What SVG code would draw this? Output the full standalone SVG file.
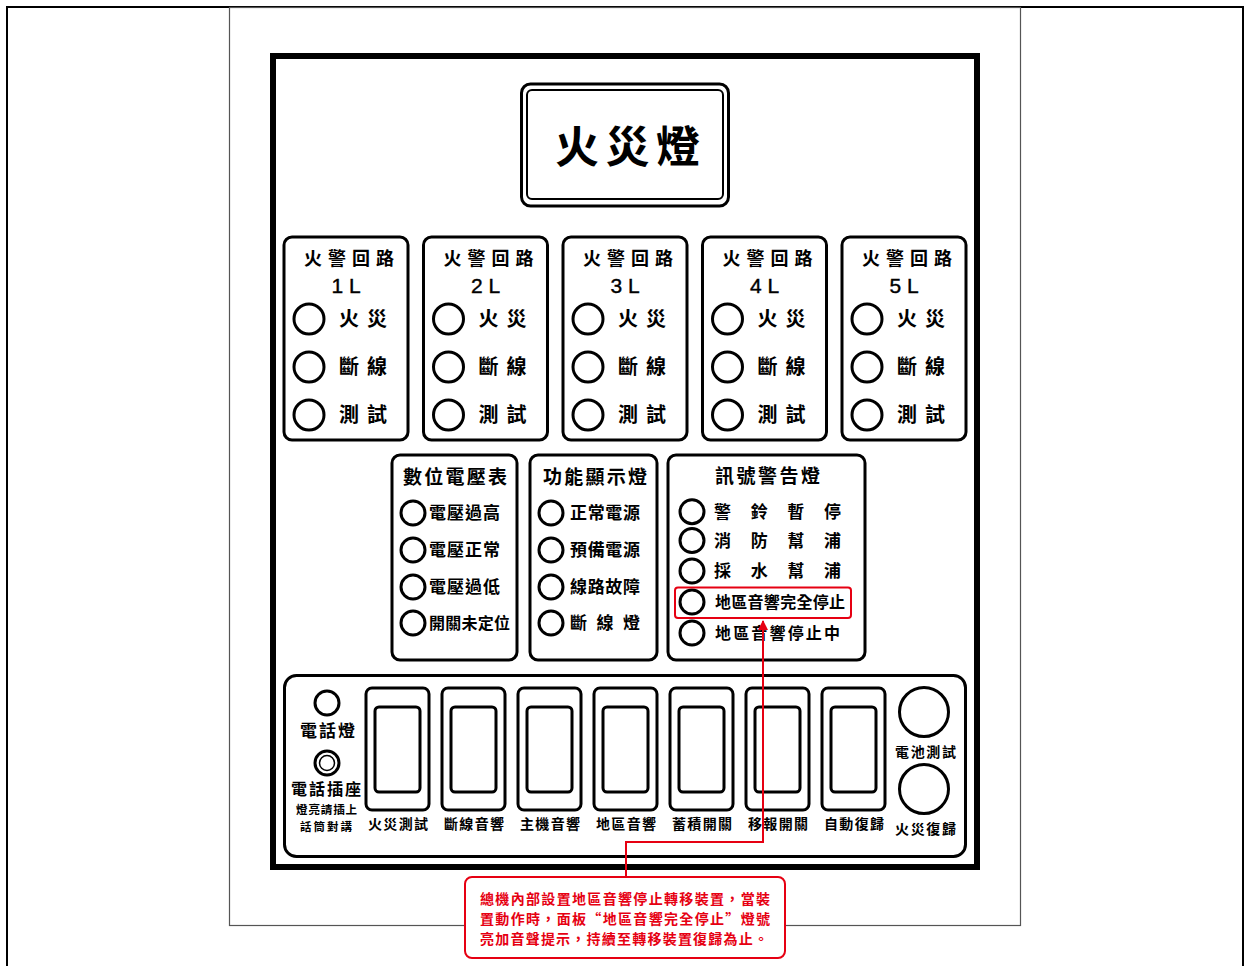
<svg xmlns="http://www.w3.org/2000/svg" width="1245" height="966" viewBox="0 0 1245 966">
<defs>
<style>
.t{font-family:"Noto Sans CJK TC","Noto Sans CJK SC",sans-serif;fill:#000;}
.b{font-weight:700;}
.box{fill:#fff;stroke:#000;stroke-width:3;}
.led{fill:#fff;stroke:#000;stroke-width:3;}
.red{fill:none;stroke:#e60012;stroke-width:2;}
.rt{font-family:"Noto Sans CJK TC","Noto Sans CJK SC",sans-serif;fill:#e60012;font-weight:700;font-size:14px;}
.lat{font-family:"Liberation Sans",Arial,sans-serif;fill:#000;stroke:#000;stroke-width:0.4;}
</style>
<marker id="arr" viewBox="0 0 10 10" refX="9" refY="5" markerWidth="5" markerHeight="5" orient="auto" markerUnits="strokeWidth">
<path d="M0,0 L10,5 L0,10 z" fill="#e60012"/>
</marker>
</defs>
<rect width="1245" height="966" fill="#fff"/>
<rect x="7" y="7" width="1236" height="970" fill="none" stroke="#000" stroke-width="2"/>
<rect x="229.5" y="7.5" width="791" height="918" fill="none" stroke="#555" stroke-width="1.2"/>
<rect x="273" y="56" width="704" height="811" fill="#fff" stroke="#000" stroke-width="6"/>

<g id="title">
<rect x="521.5" y="84" width="207" height="122" rx="9" fill="#fff" stroke="#000" stroke-width="3"/>
<rect x="527" y="90" width="196" height="109" rx="5" fill="none" stroke="#000" stroke-width="2"/>
<text class="t b" x="555" y="163" font-size="44" textLength="145" lengthAdjust="spacing">火災燈</text>
</g>

<g id="loop1" transform="translate(284,237)">
<rect class="box" x="0" y="0" width="124" height="203" rx="8"/>
<text class="t b" x="20" y="28" font-size="18" textLength="90" lengthAdjust="spacing">火警回路</text>
<text class="lat" x="62" y="56" font-size="21" text-anchor="middle">1 L</text>
<circle class="led" cx="25" cy="82" r="15"/><circle class="led" cx="25" cy="130" r="15"/><circle class="led" cx="25" cy="178" r="15"/>
<text class="t b" x="55" y="89" font-size="20" textLength="48" lengthAdjust="spacing">火災</text>
<text class="t b" x="55" y="137" font-size="20" textLength="48" lengthAdjust="spacing">斷線</text>
<text class="t b" x="55" y="185" font-size="20" textLength="48" lengthAdjust="spacing">測試</text>
</g>
<g id="loop2" transform="translate(423.5,237)">
<rect class="box" x="0" y="0" width="124" height="203" rx="8"/>
<text class="t b" x="20" y="28" font-size="18" textLength="90" lengthAdjust="spacing">火警回路</text>
<text class="lat" x="62" y="56" font-size="21" text-anchor="middle">2 L</text>
<circle class="led" cx="25" cy="82" r="15"/><circle class="led" cx="25" cy="130" r="15"/><circle class="led" cx="25" cy="178" r="15"/>
<text class="t b" x="55" y="89" font-size="20" textLength="48" lengthAdjust="spacing">火災</text>
<text class="t b" x="55" y="137" font-size="20" textLength="48" lengthAdjust="spacing">斷線</text>
<text class="t b" x="55" y="185" font-size="20" textLength="48" lengthAdjust="spacing">測試</text>
</g>
<g id="loop3" transform="translate(563,237)">
<rect class="box" x="0" y="0" width="124" height="203" rx="8"/>
<text class="t b" x="20" y="28" font-size="18" textLength="90" lengthAdjust="spacing">火警回路</text>
<text class="lat" x="62" y="56" font-size="21" text-anchor="middle">3 L</text>
<circle class="led" cx="25" cy="82" r="15"/><circle class="led" cx="25" cy="130" r="15"/><circle class="led" cx="25" cy="178" r="15"/>
<text class="t b" x="55" y="89" font-size="20" textLength="48" lengthAdjust="spacing">火災</text>
<text class="t b" x="55" y="137" font-size="20" textLength="48" lengthAdjust="spacing">斷線</text>
<text class="t b" x="55" y="185" font-size="20" textLength="48" lengthAdjust="spacing">測試</text>
</g>
<g id="loop4" transform="translate(702.5,237)">
<rect class="box" x="0" y="0" width="124" height="203" rx="8"/>
<text class="t b" x="20" y="28" font-size="18" textLength="90" lengthAdjust="spacing">火警回路</text>
<text class="lat" x="62" y="56" font-size="21" text-anchor="middle">4 L</text>
<circle class="led" cx="25" cy="82" r="15"/><circle class="led" cx="25" cy="130" r="15"/><circle class="led" cx="25" cy="178" r="15"/>
<text class="t b" x="55" y="89" font-size="20" textLength="48" lengthAdjust="spacing">火災</text>
<text class="t b" x="55" y="137" font-size="20" textLength="48" lengthAdjust="spacing">斷線</text>
<text class="t b" x="55" y="185" font-size="20" textLength="48" lengthAdjust="spacing">測試</text>
</g>
<g id="loop5" transform="translate(842,237)">
<rect class="box" x="0" y="0" width="124" height="203" rx="8"/>
<text class="t b" x="20" y="28" font-size="18" textLength="90" lengthAdjust="spacing">火警回路</text>
<text class="lat" x="62" y="56" font-size="21" text-anchor="middle">5 L</text>
<circle class="led" cx="25" cy="82" r="15"/><circle class="led" cx="25" cy="130" r="15"/><circle class="led" cx="25" cy="178" r="15"/>
<text class="t b" x="55" y="89" font-size="20" textLength="48" lengthAdjust="spacing">火災</text>
<text class="t b" x="55" y="137" font-size="20" textLength="48" lengthAdjust="spacing">斷線</text>
<text class="t b" x="55" y="185" font-size="20" textLength="48" lengthAdjust="spacing">測試</text>
</g>

<g id="voltmeter" transform="translate(392,455)">
<rect class="box" x="0" y="0" width="125" height="205" rx="8"/>
<text class="t b" x="11" y="29" font-size="19" textLength="104" lengthAdjust="spacing">數位電壓表</text>
<circle class="led" cx="21" cy="58" r="12"/><circle class="led" cx="21" cy="95" r="12"/><circle class="led" cx="21" cy="132" r="12"/><circle class="led" cx="21" cy="168" r="12"/>
<text class="t b" x="37" y="64" font-size="17" textLength="71" lengthAdjust="spacing">電壓過高</text>
<text class="t b" x="37" y="101" font-size="17" textLength="71" lengthAdjust="spacing">電壓正常</text>
<text class="t b" x="37" y="138" font-size="17" textLength="71" lengthAdjust="spacing">電壓過低</text>
<text class="t b" x="37" y="174" font-size="16" textLength="81" lengthAdjust="spacing">開關未定位</text>
</g>
<g id="function" transform="translate(530,455)">
<rect class="box" x="0" y="0" width="127" height="205" rx="8"/>
<text class="t b" x="13" y="29" font-size="19" textLength="104" lengthAdjust="spacing">功能顯示燈</text>
<circle class="led" cx="21" cy="58" r="12"/><circle class="led" cx="21" cy="95" r="12"/><circle class="led" cx="21" cy="132" r="12"/><circle class="led" cx="21" cy="168" r="12"/>
<text class="t b" x="40" y="64" font-size="17" textLength="70" lengthAdjust="spacing">正常電源</text>
<text class="t b" x="40" y="101" font-size="17" textLength="70" lengthAdjust="spacing">預備電源</text>
<text class="t b" x="40" y="138" font-size="17" textLength="70" lengthAdjust="spacing">線路故障</text>
<text class="t b" x="40" y="174" font-size="17" textLength="70" lengthAdjust="spacing">斷線燈</text>
</g>
<g id="signal" transform="translate(668,455)">
<rect class="box" x="0" y="0" width="197" height="205" rx="8"/>
<text class="t b" x="47" y="28" font-size="19" textLength="105" lengthAdjust="spacing">訊號警告燈</text>
<circle class="led" cx="24" cy="56.7" r="12"/><circle class="led" cx="24" cy="85.5" r="12"/><circle class="led" cx="24" cy="116" r="12"/><circle class="led" cx="24" cy="147" r="12"/><circle class="led" cx="24" cy="178" r="12"/>
<text class="t b" x="46" y="63" font-size="17" textLength="127" lengthAdjust="spacing">警鈴暫停</text>
<text class="t b" x="46" y="92" font-size="17" textLength="127" lengthAdjust="spacing">消防幫浦</text>
<text class="t b" x="46" y="122" font-size="17" textLength="127" lengthAdjust="spacing">採水幫浦</text>
<text class="t b" x="47" y="153" font-size="16" textLength="130" lengthAdjust="spacing">地區音響完全停止</text>
<text class="t b" x="47" y="184" font-size="16" textLength="125" lengthAdjust="spacing">地區音響停止中</text>
</g>

<g id="control-panel">
<rect class="box" x="284.5" y="675.5" width="681" height="181" rx="12"/>
<circle class="led" cx="327" cy="703" r="12"/>
<text class="t b" x="300" y="737" font-size="17" textLength="55" lengthAdjust="spacing">電話燈</text>
<circle class="led" cx="327" cy="763" r="12"/>
<circle cx="327" cy="763" r="7.5" fill="none" stroke="#000" stroke-width="1.5"/>
<text class="t b" x="291" y="795" font-size="16" textLength="70" lengthAdjust="spacing">電話插座</text>
<text class="t b" x="296" y="814" font-size="11.5" textLength="61" lengthAdjust="spacing">燈亮請插上</text>
<text class="t b" x="300" y="831" font-size="11.5" textLength="52" lengthAdjust="spacing">話筒對講</text>
</g>
<g id="sw1" transform="translate(366,688)"><rect class="box" x="0" y="0" width="63" height="122" rx="6"/><rect class="box" x="9" y="19" width="45" height="85" rx="4"/><text class="t b" x="2" y="141" font-size="14" textLength="60" lengthAdjust="spacing">火災測試</text></g>
<g id="sw2" transform="translate(442,688)"><rect class="box" x="0" y="0" width="63" height="122" rx="6"/><rect class="box" x="9" y="19" width="45" height="85" rx="4"/><text class="t b" x="2" y="141" font-size="14" textLength="60" lengthAdjust="spacing">斷線音響</text></g>
<g id="sw3" transform="translate(518,688)"><rect class="box" x="0" y="0" width="63" height="122" rx="6"/><rect class="box" x="9" y="19" width="45" height="85" rx="4"/><text class="t b" x="2" y="141" font-size="14" textLength="60" lengthAdjust="spacing">主機音響</text></g>
<g id="sw4" transform="translate(594,688)"><rect class="box" x="0" y="0" width="63" height="122" rx="6"/><rect class="box" x="9" y="19" width="45" height="85" rx="4"/><text class="t b" x="2" y="141" font-size="14" textLength="60" lengthAdjust="spacing">地區音響</text></g>
<g id="sw5" transform="translate(670,688)"><rect class="box" x="0" y="0" width="63" height="122" rx="6"/><rect class="box" x="9" y="19" width="45" height="85" rx="4"/><text class="t b" x="2" y="141" font-size="14" textLength="60" lengthAdjust="spacing">蓄積開關</text></g>
<g id="sw6" transform="translate(746,688)"><rect class="box" x="0" y="0" width="63" height="122" rx="6"/><rect class="box" x="9" y="19" width="45" height="85" rx="4"/><text class="t b" x="2" y="141" font-size="14" textLength="60" lengthAdjust="spacing">移報開關</text></g>
<g id="sw7" transform="translate(822,688)"><rect class="box" x="0" y="0" width="63" height="122" rx="6"/><rect class="box" x="9" y="19" width="45" height="85" rx="4"/><text class="t b" x="2" y="141" font-size="14" textLength="60" lengthAdjust="spacing">自動復歸</text></g>
<g id="btn-battery"><circle class="led" cx="924" cy="712" r="24.5"/><text class="t b" x="895" y="757" font-size="14" textLength="61" lengthAdjust="spacing">電池測試</text></g>
<g id="btn-reset"><circle class="led" cx="924" cy="789" r="24.5"/><text class="t b" x="895" y="834" font-size="14" textLength="61" lengthAdjust="spacing">火災復歸</text></g>

<g id="connectors">
<path d="M626,878 V842 H763 V621" fill="none" stroke="#e60012" stroke-width="2" marker-end="url(#arr)"/>
</g>

<g id="callout">
<rect class="red" x="675" y="587.5" width="176" height="30.5" rx="3"/>
<rect x="465" y="877" width="320" height="81" rx="7" fill="#fff" stroke="#e60012" stroke-width="2"/>
<text class="rt" x="480" y="904" textLength="290" lengthAdjust="spacing">總機內部設置地區音響停止轉移裝置，當裝</text>
<text class="rt" x="480" y="924" textLength="290" lengthAdjust="spacing">置動作時，面板“地區音響完全停止”燈號</text>
<text class="rt" x="480" y="944" textLength="288" lengthAdjust="spacing">亮加音聲提示，持續至轉移裝置復歸為止。</text>
</g>
</svg>
